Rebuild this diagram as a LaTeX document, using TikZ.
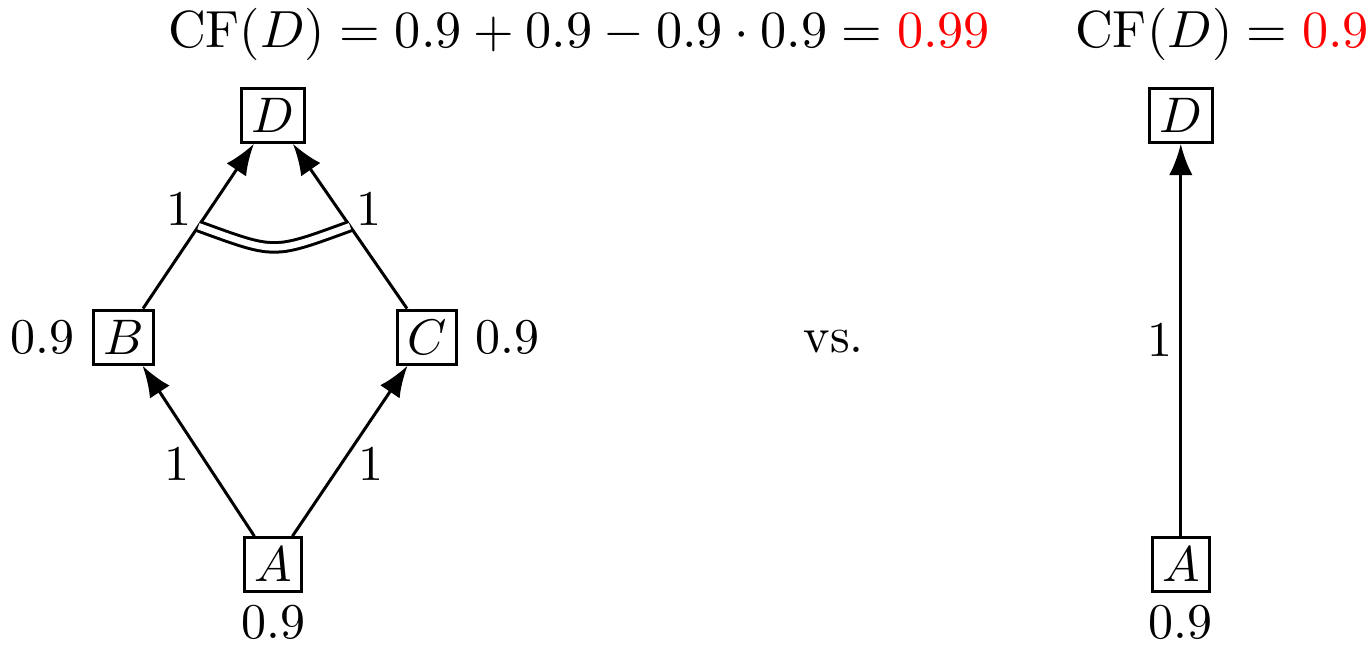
\documentclass[tikz,border=0pt]{standalone}
\usetikzlibrary{arrows.meta,positioning}

\begin{document}
\begin{tikzpicture}[
      var/.style={draw, semithick, inner sep=2pt},
      arr/.style={-{Latex[length=2.2mm]}, semithick},
      merge/.style={double, semithick, double distance=1.3pt},
      cf/.style={scale=1.045, transform shape}]
    \useasboundingbox (-1.92,-0.56) rectangle (7.71,3.97);
    % left: two paths
    \node[var, label={[label distance=-1pt]below:$0.9$}] (a) at (0,0) {$A$};
    \node[var, label={left:$0.9$}] (b) at (-1.05,1.6) {$B$};
    \node[var, label={right:$0.9$}] (c) at (1.08,1.6) {$C$};
    \node[var] (d) at (0,3.16) {$D$};
    \draw[arr] (a) -- node[left, pos=0.42] {$1$} (b);
    \draw[arr] (a) -- node[right, pos=0.42] {$1$} (c);
    \draw[arr] (b) -- node[left, pos=0.6] {$1$} coordinate[pos=0.5] (bd) (d);
    \draw[arr] (c) -- node[right, pos=0.6] {$1$} coordinate[pos=0.5] (cd) (d);
    \draw[merge] (bd) to[bend right=20, looseness=1.4] (cd);
    \node[cf] (cf1) at (2.15,3.73) {$\mathrm{CF}(D) = 0.9 + 0.9 - 0.9 \cdot 0.9 = \textcolor{red}{0.99}$};

    \node (vs) at (3.94,1.57) {vs.};

    % right: one path
    \node[var, label={[label distance=-1pt]below:$0.9$}] (a2) at (6.38,0) {$A$};
    \node[var] (d2) at (6.38,3.16) {$D$};
    \draw[arr] (a2) -- node[left, xshift=2pt] {$1$} (d2);
    \node[cf] (cf2) at (6.67,3.73) {$\mathrm{CF}(D) = \textcolor{red}{0.9}$};
  \end{tikzpicture}
\end{document}
